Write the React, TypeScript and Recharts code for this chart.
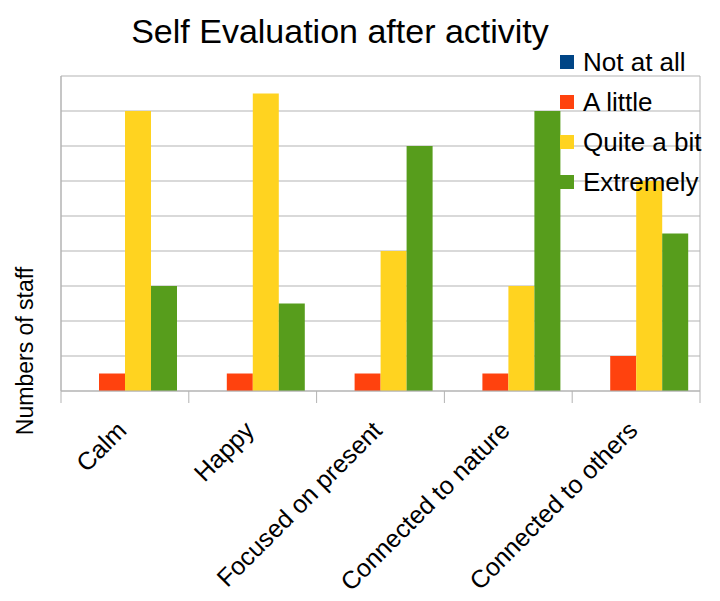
import React from 'react';
import { BarChart, Bar, XAxis, YAxis, CartesianGrid, Legend, Customized } from 'recharts';

const categories = ['Calm', 'Happy', 'Focused on present', 'Connected to nature', 'Connected to others'];
const notAtAll = [0, 0, 0, 0, 0];
const aLittle = [1, 1, 1, 1, 2];
const quiteABit = [16, 17, 8, 6, 12];
const extremely = [6, 5, 14, 16, 9];
const yTicks = [0, 2, 4, 6, 8, 10, 12, 14, 16, 18];

const seriesNames = ['Not at all', 'A little', 'Quite a bit', 'Extremely'];
const seriesKeys = ['notAtAll', 'aLittle', 'quiteABit', 'extremely'];
const seriesColors = ['#004586', '#ff420e', '#ffd320', '#579d1c'];

const data = categories.map((name, i) => ({
  name,
  notAtAll: notAtAll[i],
  aLittle: aLittle[i],
  quiteABit: quiteABit[i],
  extremely: extremely[i],
}));

const FONT = '"Liberation Sans", Arial, sans-serif';
const GRID = '#b3b3b3';

const XTick = (props: any) => {
  const { x, y, payload, index, visibleTicksCount, width } = props;
  let half = payload && payload.offset ? payload.offset : 0;
  if (!half && width && visibleTicksCount) half = width / visibleTicksCount / 2;
  if (!half) half = 63.9;
  const ax = x + 3;
  const ay = y + 41;
  return (
    <g>
      <line x1={x - half} x2={x - half} y1={y} y2={y + 12} stroke={GRID} strokeWidth={1} />
      {index === visibleTicksCount - 1 ? (
        <line x1={x + half} x2={x + half} y1={y} y2={y + 12} stroke={GRID} strokeWidth={1} />
      ) : null}
      <text
        x={ax}
        y={ay}
        textAnchor="end"
        transform={`rotate(-45, ${ax}, ${ay})`}
        fontSize={25}
        fontFamily={FONT}
        fill="#000"
      >
        {payload.value}
      </text>
    </g>
  );
};

const LegendContent = () => (
  <svg width={160} height={170} style={{ display: 'block', overflow: 'visible' }}>
    {seriesNames.map((n, i) => {
      const cy = 20 + i * 40;
      return (
        <g key={n}>
          <rect x={4} y={cy - 7} width={14} height={14} fill={seriesColors[i]} />
          <text x={27} y={cy + 9} fontSize={26} fontFamily={FONT} fill="#000">
            {n}
          </text>
        </g>
      );
    })}
  </svg>
);

const Title = () => (
  <text x={340} y={43} textAnchor="middle" fontSize={34} fontFamily={FONT} fill="#000">
    Self Evaluation after activity
  </text>
);

const YLabel = () => (
  <text
    x={33}
    y={351}
    textAnchor="middle"
    transform="rotate(-90, 33, 351)"
    fontSize={23}
    fontFamily={FONT}
    fill="#000"
  >
    Numbers of staff
  </text>
);

const hGen = (p: any) => {
  const off = p.offset;
  const min = yTicks[0];
  const max = yTicks[yTicks.length - 1];
  return yTicks.map((t) => off.top + off.height - ((t - min) / (max - min)) * off.height);
};

export default function App() {
  return (
    <div style={{ position: 'absolute', left: 0, top: 0, width: 720, height: 601, background: '#fff' }}>
      <BarChart
        width={720}
        height={601}
        data={data}
        margin={{ top: 76, right: 20, bottom: 0, left: 0 }}
        barCategoryGap={12}
        barGap={0}
        barSize={26}
      >
        <CartesianGrid
          stroke={GRID}
          horizontal={true}
          vertical={true}
          horizontalCoordinatesGenerator={hGen}
          verticalCoordinatesGenerator={(p: any) => [p.offset.left, p.offset.left + p.offset.width]}
        />
        <XAxis
          dataKey="name"
          interval={0}
          height={210}
          tickLine={false}
          tickSize={0}
          tickMargin={0}
          axisLine={{ stroke: GRID }}
          tick={<XTick />}
        />
        <YAxis
          width={61}
          domain={[0, 18]}
          ticks={yTicks}
          tick={false}
          tickLine={false}
          axisLine={{ stroke: GRID }}
        />
        <Legend
          layout="vertical"
          align="center"
          verticalAlign="middle"
          wrapperStyle={{ left: 556, top: 42, width: 160, height: 170 }}
          content={<LegendContent />}
        />
        {seriesKeys.map((k, i) => (
          <Bar key={k} dataKey={k} name={seriesNames[i]} fill={seriesColors[i]} barSize={26} isAnimationActive={false} />
        ))}
        <Customized component={Title} />
        <Customized component={YLabel} />
      </BarChart>
    </div>
  );
}
